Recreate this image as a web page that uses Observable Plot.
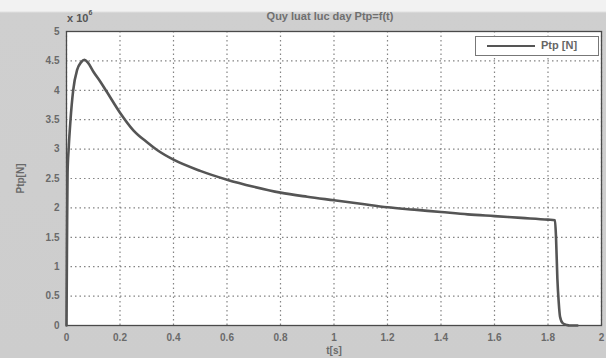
<!DOCTYPE html>
<html>
<head>
<meta charset="utf-8">
<script src="https://cdn.jsdelivr.net/npm/d3@7"></script>
<script src="https://cdn.jsdelivr.net/npm/@observablehq/plot@0.6"></script>
<style>
  html, body { margin: 0; padding: 0; }
  body { width: 606px; height: 358px; overflow: hidden; font-family: "Liberation Sans", Arial, sans-serif; }
  #wrap { position: relative; width: 606px; height: 358px;
    background: linear-gradient(to bottom, #f2f2f2 0px, #f2f2f2 11px, #cfcfcf 13px, #cdcdcd 100%); }
  #wrap svg { position: absolute; left: 0; top: 0; background: transparent; }
  .title { position: absolute; left: 0; width: 660px; top: 10px; text-align: center; font-size: 11px; font-weight: bold; color: #707070; }
  .mult { position: absolute; left: 67px; top: 11px; font-size: 11px; font-weight: bold; color: #555; }
  .mult sup { font-size: 7px; position: relative; top: -2px; }
  .legend { position: absolute; left: 475px; top: 36px; width: 124px; height: 20px; background: #fff; border: 1.5px solid #777; box-sizing: border-box; }
  .legend .ln { position: absolute; left: 11px; top: 8px; width: 48px; height: 0; border-top: 2.5px solid #555; }
  .legend .tx { position: absolute; left: 65px; top: 2px; font-size: 11px; font-weight: bold; color: #666; }
</style>
</head>
<body>
<div id="wrap">
  <div class="title">Quy luat luc day Ptp=f(t)</div>
  <div class="mult">x 10<sup>6</sup></div>
</div>
<script>
// time [s]
const t = [0, 0.002, 0.004, 0.008, 0.015, 0.025, 0.04, 0.055, 0.067, 0.08, 0.1, 0.126, 0.15, 0.2, 0.25, 0.3, 0.34, 0.4, 0.5, 0.6, 0.7, 0.8, 0.9, 1.0, 1.1, 1.2, 1.3, 1.4, 1.5, 1.6, 1.7, 1.8, 1.826, 1.83, 1.835, 1.84, 1.845, 1.855, 1.87, 1.88, 1.91];
// thrust force Ptp [x10^6 N]
const ptp = [0, 1.5, 2.6, 3.0, 3.5, 4.0, 4.35, 4.48, 4.52, 4.47, 4.32, 4.15, 3.98, 3.62, 3.32, 3.12, 2.98, 2.82, 2.63, 2.48, 2.36, 2.26, 2.19, 2.13, 2.07, 2.01, 1.97, 1.93, 1.89, 1.86, 1.83, 1.80, 1.79, 1.5, 0.8, 0.4, 0.15, 0.04, 0.01, 0.0, 0.0];
const xTicks = [0, 0.2, 0.4, 0.6, 0.8, 1, 1.2, 1.4, 1.6, 1.8, 2];
const yTicks = [0, 0.5, 1, 1.5, 2, 2.5, 3, 3.5, 4, 4.5, 5];
const seriesName = "Ptp [N]";

const data = t.map((v, i) => ({t: v, p: ptp[i]}));
const fmt = d => String(+d.toFixed(1));

const chart = Plot.plot({
  width: 606,
  height: 358,
  marginLeft: 66,
  marginTop: 31,
  marginBottom: 33,
  marginRight: 5,
  style: {background: "transparent", fontFamily: "'Liberation Sans', Arial, sans-serif", fontSize: "10px", fontWeight: "bold", color: "#6a6a6a"},
  x: {domain: [0, 2], ticks: xTicks, tickFormat: fmt, label: "t[s]", labelAnchor: "center", labelArrow: false},
  y: {domain: [0, 5], ticks: yTicks, tickFormat: fmt, label: "Ptp[N]", labelAnchor: "center", labelArrow: false},
  marks: [
    Plot.frame({fill: "white", stroke: null}),
    Plot.gridX(xTicks, {stroke: "#777", strokeOpacity: 0.9, strokeDasharray: "1.5,3", strokeWidth: 1.2}),
    Plot.gridY(yTicks, {stroke: "#777", strokeOpacity: 0.9, strokeDasharray: "1.5,3", strokeWidth: 1.2}),
    Plot.axisX(xTicks, {tickFormat: fmt, tickSize: 0, tickPadding: 8, label: "t[s]", labelAnchor: "center", labelOffset: 28, labelArrow: false}),
    Plot.axisY(yTicks, {tickFormat: fmt, tickSize: 0, tickPadding: 7, label: "Ptp[N]", labelAnchor: "center", labelOffset: 50, labelArrow: false}),
    Plot.frame({stroke: "#4a4a4a", strokeWidth: 1.3}),
    Plot.line(data, {x: "t", y: "p", stroke: "#555", strokeWidth: 2.6, curve: "monotone-x"})
  ]
});
const wrap = document.getElementById("wrap");
wrap.insertBefore(chart, wrap.firstChild);

const lg = document.createElement("div");
lg.className = "legend";
lg.innerHTML = '<div class="ln"></div><div class="tx"></div>';
lg.querySelector(".tx").textContent = seriesName;
wrap.appendChild(lg);
</script>
</body>
</html>
